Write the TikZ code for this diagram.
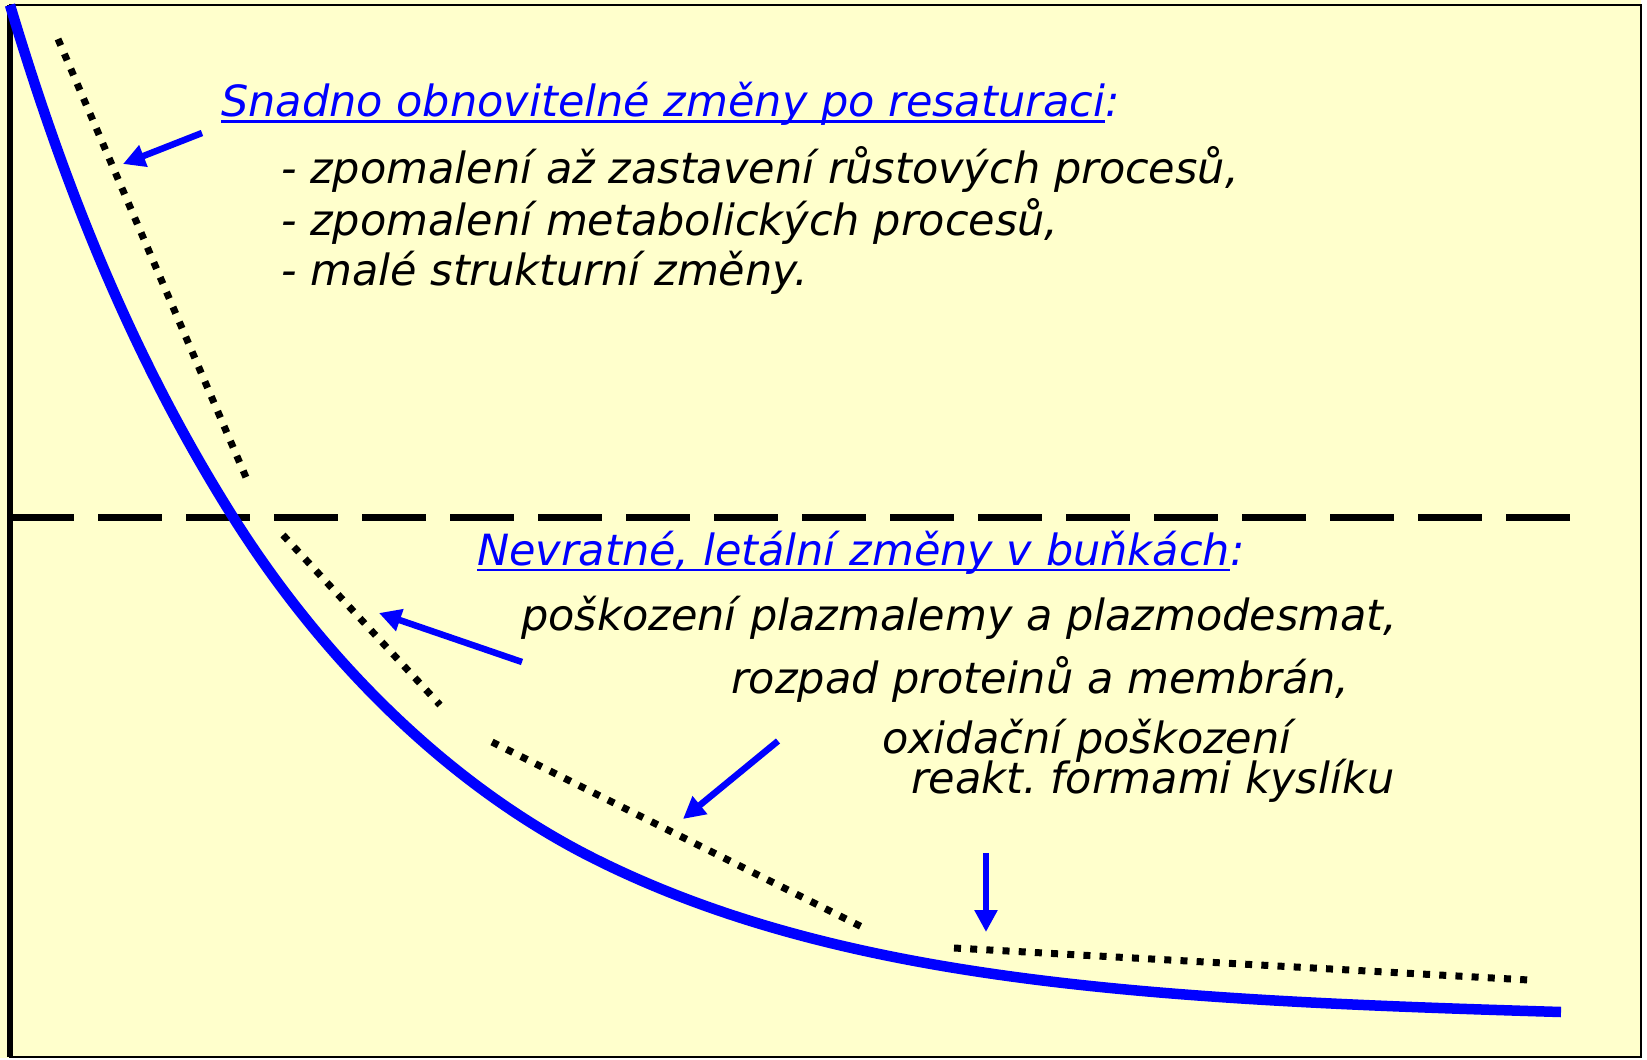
\documentclass[tikz,border=0pt]{standalone}
\usepackage{fontspec}
\setmainfont{DejaVu Sans}
\usetikzlibrary{arrows.meta}
\definecolor{paper}{HTML}{FFFFCC}
\definecolor{ink}{HTML}{0000FF}

\begin{document}
\frenchspacing
\begin{tikzpicture}[x=1pt,y=-1pt,
  txt/.style={anchor=base west, inner sep=0pt, font=\fontsize{43}{50}\selectfont\itshape},
  headline/.style={txt, text=ink},
  dots/.style={line width=7pt, dash pattern=on 7pt off 9.2pt},
  pointer/.style={draw=ink, line width=6.5pt, -{Triangle[length=22pt,width=22pt]}},
  underl/.style={draw=ink, line width=2.5pt},
]
\useasboundingbox (0,0) rectangle (1647,1060);
\fill[white] (0,0) rectangle (1647,1060);
\fill[paper] (0,0) rectangle (1641,1058);

% frame and vertical axis
\draw[line width=2.5pt] (10,5) rectangle (1641,1057);
\coordinate (axtop) at (10,5);
\coordinate (axbot) at (10,1057);
\draw[line width=6pt] (axtop) -- (axbot);

% threshold line
\coordinate (thl) at (10,517);
\coordinate (thr) at (1570,517);
\draw[line width=7pt, dash pattern=on 64pt off 24pt] (thl) -- (thr);

% decay curve: cubic pieces joined with common tangents
\coordinate (c0) at (10,5);
\coordinate (cm) at (233,517);
\coordinate (cn) at (595,859);
\coordinate (c1) at (1561,1012);
\draw[ink, line width=10.5pt] (c0) .. controls (64.5,187) and (131.7,356.3) .. (cm)
  .. controls (321.5,657.4) and (446.6,784.8) .. (cn)
  .. controls (845,984) and (1161,1000) .. (c1);

% dotted tangents
\coordinate (d1a) at (58,39);   \coordinate (d1b) at (248,482);
\coordinate (d2a) at (283,535); \coordinate (d2b) at (440,705);
\coordinate (d3a) at (492,742); \coordinate (d3b) at (868,930);
\coordinate (d4a) at (954,948); \coordinate (d4b) at (1529,980);
\draw[dots] (d1a) -- (d1b);
\draw[dots] (d2a) -- (d2b);
\draw[dots] (d3a) -- (d3b);
\draw[dots] (d4a) -- (d4b);

% upper text block
\node[headline] (h1) at (221,116.7) {Snadno obnovitelné změny po resaturaci};
\node[headline] (h1c) at (h1.base east) {:};
\draw[underl] ([yshift=-5pt]h1.base west) -- ([yshift=-5pt]h1.base east);
\node[txt] (a1) at (281,183.3) {- zpomalení až zastavení růstových procesů,};
\node[txt] (a2) at (281,235) {- zpomalení metabolických procesů,};
\node[txt] (a3) at (281,285) {- malé strukturní změny.};

% lower text block
\node[headline] (h2) at (477,565) {Nevratné, letální změny v buňkách};
\node[headline] (h2c) at (h2.base east) {:};
\draw[underl] ([yshift=-5pt]h2.base west) -- ([yshift=-5pt]h2.base east);
\node[txt] (b1) at (521,630) {poškození plazmalemy a plazmodesmat,};
\node[txt] (b2) at (731,693) {rozpad proteinů a membrán,};
\node[txt] (b3) at (882,753) {oxidační poškození};
\node[txt] (b4) at (911,793) {reakt. formami kyslíku};

% pointers
\coordinate (p1s) at (202,133); \coordinate (p1e) at (123,164);
\coordinate (p2s) at (522,662); \coordinate (p2e) at (379,613);
\coordinate (p3s) at (778,741); \coordinate (p3e) at (683,819);
\coordinate (p4s) at (986,853); \coordinate (p4e) at (986,932);
\draw[pointer] (p1s) -- (p1e);
\draw[pointer] (p2s) -- (p2e);
\draw[pointer] (p3s) -- (p3e);
\draw[pointer] (p4s) -- (p4e);
\end{tikzpicture}
\end{document}
